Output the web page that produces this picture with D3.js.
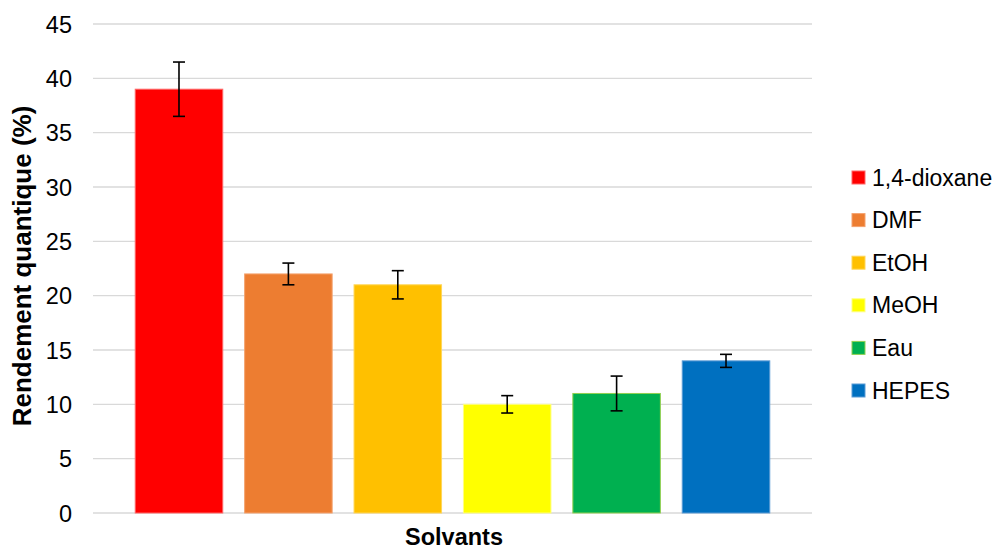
<!DOCTYPE html>
<html><head><meta charset="utf-8">
<script src="https://cdn.jsdelivr.net/npm/d3@7"></script>
<style>body{margin:0;background:#fff}svg{display:block}text{font-family:"Liberation Sans",Arial,sans-serif}</style>
</head><body><svg id="c" width="997" height="549"></svg>
<script>
const solvants = ["1,4-dioxane","DMF","EtOH","MeOH","Eau","HEPES"];
const rendement = [39, 22, 21, 10, 11, 14];
const erreurs = [2.5, 1.0, 1.3, 0.8, 1.6, 0.6];
const couleurs = ["#FF0000","#ED7D31","#FFC000","#FFFF00","#00B050","#0070C0"];
const bordures = ["#FF6666","#F4A26E","#FFD659","#FFFF80","#92D050","#5B9BD5"];
const yTicks = [0,5,10,15,20,25,30,35,40,45];

const svg = d3.select("#c");
const m = {left:93, right:812, top:24, bottom:513};
const y = d3.scaleLinear().domain([0,45]).range([m.bottom, m.top]);
const x = d3.scaleBand().domain(solvants).range([m.left, m.right]).paddingInner(0.2).paddingOuter(0.386);

// gridlines
svg.append("g").selectAll("line").data(yTicks).join("line")
  .attr("x1", m.left).attr("x2", m.right)
  .attr("y1", d=>y(d)).attr("y2", d=>y(d))
  .attr("stroke", "#d9d9d9").attr("stroke-width", 1.3);

// y axis labels
const ax = svg.append("g").attr("transform", `translate(${m.left},0)`)
  .call(d3.axisLeft(y).tickValues(yTicks).tickSize(0).tickPadding(21));
ax.select(".domain").remove();
ax.selectAll("text").attr("font-size", 23.5).attr("fill", "#000").attr("dy","0.34em")
  .attr("font-family", '"Liberation Sans",Arial,sans-serif');

// bars
svg.append("g").selectAll("rect").data(solvants).join("rect")
  .attr("x", d=>x(d)).attr("width", x.bandwidth())
  .attr("y", (d,i)=>y(rendement[i])).attr("height", (d,i)=>y(0)-y(rendement[i]))
  .attr("fill", (d,i)=>couleurs[i]).attr("stroke", (d,i)=>bordures[i]).attr("stroke-width", 1);

// error bars
const eb = svg.append("g").attr("stroke", "#000").attr("stroke-width", 1.6);
solvants.forEach((s,i)=>{
  const cx = x(s) + x.bandwidth()/2;
  const hi = y(rendement[i]+erreurs[i]), lo = y(rendement[i]-erreurs[i]);
  eb.append("line").attr("x1",cx).attr("x2",cx).attr("y1",hi).attr("y2",lo);
  eb.append("line").attr("x1",cx-6).attr("x2",cx+6).attr("y1",hi).attr("y2",hi);
  eb.append("line").attr("x1",cx-6).attr("x2",cx+6).attr("y1",lo).attr("y2",lo);
});

// axis titles
svg.append("text").attr("x", 454).attr("y", 545)
  .attr("text-anchor","middle").attr("font-size",23.5).attr("font-weight","bold").text("Solvants");
svg.append("text").attr("transform", `translate(31,266) rotate(-90)`)
  .attr("text-anchor","middle").attr("font-size",26).attr("font-weight","bold").text("Rendement quantique (%)");

// legend
const lg = svg.append("g").attr("transform","translate(852,177.5)");
const row = lg.selectAll("g").data(solvants).join("g").attr("transform",(d,i)=>`translate(0,${i*42.6})`);
row.append("rect").attr("x",0).attr("y",-6.5).attr("width",13).attr("height",13)
  .attr("fill",(d,i)=>couleurs[i]).attr("stroke",(d,i)=>bordures[i]).attr("stroke-width",1);
row.append("text").attr("x",20).attr("y",0).attr("dy","0.35em").attr("font-size",23).text(d=>d);
</script></body></html>
